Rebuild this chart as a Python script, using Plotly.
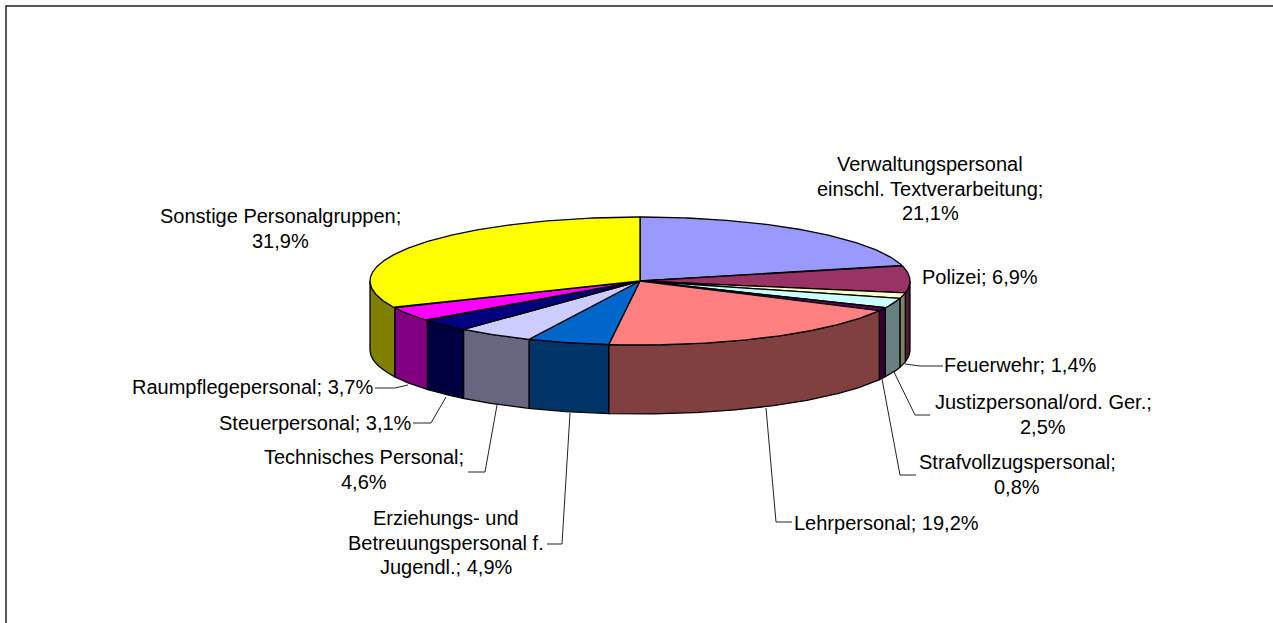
import numpy as np
import plotly.graph_objects as go

# --- data -----------------------------------------------------------------
labels = [
    "Verwaltungspersonal<br>einschl. Textverarbeitung;<br>21,1%",
    "Polizei; 6,9%",
    "Feuerwehr; 1,4%",
    "Justizpersonal/ord. Ger.;<br>2,5%",
    "Strafvollzugspersonal;<br>0,8%",
    "Lehrpersonal; 19,2%",
    "Erziehungs- und<br>Betreuungspersonal f.<br>Jugendl.; 4,9%",
    "Technisches Personal;<br>4,6%",
    "Steuerpersonal; 3,1%",
    "Raumpflegepersonal; 3,7%",
    "Sonstige Personalgruppen;<br>31,9%",
]
values = [21.1, 6.9, 1.4, 2.5, 0.8, 19.2, 4.9, 4.6, 3.1, 3.7, 31.9]

# --- style / layout -------------------------------------------------------
top_colors = ["#9999FF", "#993366", "#FFFFCC", "#CCFFFF", "#660066", "#FF8080",
              "#0066CC", "#CCCCFF", "#000080", "#FF00FF", "#FFFF00"]
side_colors = ["#4D4D80", "#4D1A33", "#808066", "#668080", "#330033", "#804040",
               "#003366", "#666680", "#000040", "#800080", "#808000"]
CX, CY, RX, RY, DEPTH = 640, 281, 270, 64, 69
W, H = 1273, 623
FS = 20
LINE_GAP = 24.5

label_pos = [(930, 164), (980, 277), (1020, 365), (1043, 402), (1017, 462),
             (886, 523), (446, 518), (364, 457), (315, 423), (252, 387), (280, 216)]
leaders = [None, None,
           [(905, 364), (920, 366), (943, 366)],
           [(894, 372), (915, 415), (930, 415)],
           [(882, 379), (900, 475), (916, 475)],
           [(766, 408), (776, 522), (792, 522)],
           [(570, 413), (562, 544), (547, 544)],
           [(497, 405), (485, 472), (468, 472)],
           [(446, 397), (431, 423), (413, 423)],
           [(408, 385), (395, 388), (375, 388)],
           None]

fig = go.Figure()
edges = np.concatenate([[0], np.cumsum(values)]) / sum(values) * 360


def arc(a0, a1, dy=0.0):
    t = np.radians(np.linspace(a0, a1, max(int(abs(a1 - a0) * 2), 2)))
    return CX + RX * np.sin(t), CY - RY * np.cos(t) + dy


# visible outer wall (front half of the ellipse)
for i in range(len(values)):
    a0, a1 = max(edges[i], 90), min(edges[i + 1], 270)
    if a1 <= a0:
        continue
    xt, yt = arc(a0, a1)
    xb, yb = arc(a1, a0, DEPTH)
    fig.add_trace(go.Scatter(
        x=np.r_[xt, xb, xt[0]], y=np.r_[yt, yb, yt[0]], mode="lines", fill="toself",
        fillcolor=side_colors[i], line=dict(color="black", width=1.3),
        hoverinfo="skip", showlegend=False))

# top face
for i in range(len(values)):
    xt, yt = arc(edges[i], edges[i + 1])
    fig.add_trace(go.Scatter(
        x=np.r_[CX, xt, CX], y=np.r_[CY, yt, CY], mode="lines", fill="toself",
        fillcolor=top_colors[i], line=dict(color="black", width=1.3),
        name=labels[i].replace("<br>", " "), hoverinfo="name", showlegend=False))

# leader lines
for pts in leaders:
    if pts:
        fig.add_trace(go.Scatter(
            x=[p[0] for p in pts], y=[p[1] for p in pts], mode="lines",
            line=dict(color="#222222", width=1), hoverinfo="skip", showlegend=False))

# data labels, one annotation per line for the original line spacing
for lab, (lx, ly) in zip(labels, label_pos):
    for j, part in enumerate(lab.split("<br>")):
        fig.add_annotation(x=lx, y=ly + j * LINE_GAP, text=part, showarrow=False,
                           xanchor="center", yanchor="middle",
                           font=dict(family="Liberation Sans, Arial, sans-serif",
                                     size=FS, color="black"))

# chart-area frame (only top and left edges fall inside the picture)
fig.add_trace(go.Scatter(x=[6, 6, W], y=[H, 6, 6], mode="lines",
                         line=dict(color="#222222", width=1.5),
                         hoverinfo="skip", showlegend=False))

fig.update_layout(
    width=W, height=H, margin=dict(l=0, r=0, t=0, b=0),
    paper_bgcolor="white", plot_bgcolor="white", showlegend=False,
    xaxis=dict(range=[0, W], visible=False, fixedrange=True),
    yaxis=dict(range=[H, 0], visible=False, fixedrange=True),
)
fig.write_html("out.html", config={"displayModeBar": False},
               post_script="document.body.style.margin='0';document.documentElement.style.overflow='hidden';")
